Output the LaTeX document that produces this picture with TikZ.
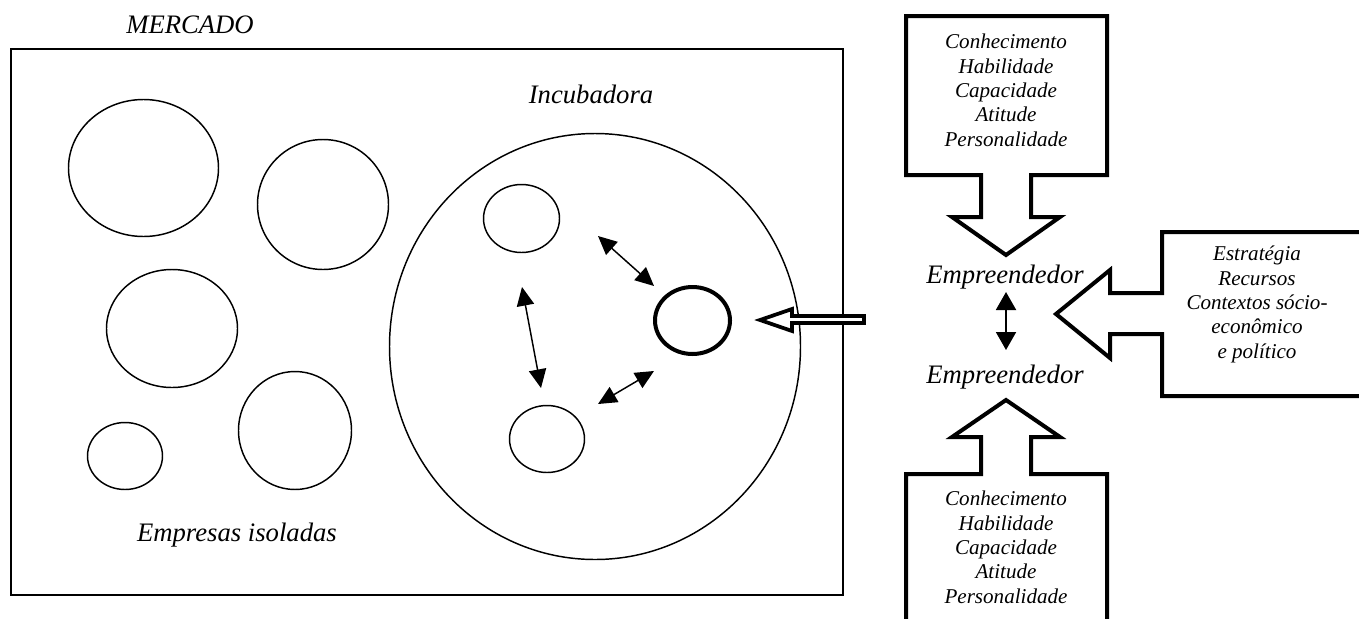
\documentclass[tikz,border=0pt]{standalone}
\usepackage{fontspec}
\setmainfont{Liberation Serif}
\usetikzlibrary{arrows.meta,shapes.geometric}
\begin{document}
\begin{tikzpicture}[x=0.75pt,y=-0.75pt,
  frame/.style={draw,line width=1.4pt},
  firm/.style={ellipse,draw,line width=1.1pt,inner sep=0pt},
  keyfirm/.style={ellipse,draw,line width=3pt,inner sep=0pt},
  big/.style={font=\fontsize{20}{24}\selectfont\itshape,inner sep=0pt},
  small/.style={font=\fontsize{15.8}{18.2}\selectfont\itshape,align=center,inner sep=0pt},
  block/.style={draw,line width=3pt,fill=white,line join=miter},
  hollow/.style={draw,line width=2.8pt,fill=white,line join=miter},
  link/.style={{Triangle[length=14pt,width=13pt]}-{Triangle[length=14pt,width=13pt]},line width=1.1pt},
  tie/.style={{Triangle[length=13.5pt,width=15pt]}-{Triangle[length=13.5pt,width=15pt]},line width=1.4pt}]
\useasboundingbox (0,0) rectangle (1359,618);
\clip (0,0) rectangle (1359,618);

% market frame
\draw[frame] (11,49) rectangle (843,595);

% isolated firms
\node[firm,minimum width=112.5pt,minimum height=102.75pt] (f1) at (143.5,168) {};
\node[firm,minimum width=98.25pt,minimum height=97.5pt] (f2) at (323,204.5) {};
\node[firm,minimum width=98.25pt,minimum height=88.5pt] (f3) at (172,328.5) {};
\node[firm,minimum width=56.25pt,minimum height=50.25pt] (f4) at (125,456) {};
\node[firm,minimum width=84.75pt,minimum height=88.5pt] (f5) at (295,430.5) {};

% incubator and its firms
\node[firm,minimum width=308.25pt,minimum height=319.5pt] (inc) at (595,346.5) {};
\node[firm,minimum width=57pt,minimum height=51pt] (ia) at (521.5,218.5) {};
\node[firm,minimum width=56.25pt,minimum height=50.25pt] (ib) at (547,439) {};
\node[keyfirm,minimum width=56.25pt,minimum height=50.25pt] (ic) at (692.5,320.5) {};

% exchanges between incubated firms
\coordinate (a1s) at (598,236); \coordinate (a1e) at (654,286);
\coordinate (a2s) at (522,287); \coordinate (a2e) at (541,388);
\coordinate (a3s) at (598,404); \coordinate (a3e) at (654,371);
\draw[link] (a1s) -- (a1e);
\draw[link] (a2s) -- (a2e);
\draw[link] (a3s) -- (a3e);

% entrepreneur entering the incubator
\draw[hollow] (864,316) -- (792,316) -- (792,309) -- (760,320) -- (792,331) -- (792,323) -- (864,323) -- cycle;

% block arrows around the entrepreneurs
\draw[block] (906,16) -- (1107,16) -- (1107,175) -- (1031,175) -- (1031,217) -- (1060,217)
  -- (1006,255) -- (952,217) -- (981,217) -- (981,175) -- (906,175) -- cycle;
\draw[block] (906,630) -- (906,474) -- (981,474) -- (981,437) -- (952,437) -- (1006,400)
  -- (1060,437) -- (1031,437) -- (1031,474) -- (1107,474) -- (1107,630);
\draw[block] (1370,232) -- (1162,232) -- (1162,293) -- (1110,293) -- (1110,270) -- (1056,314)
  -- (1110,358) -- (1110,334) -- (1162,334) -- (1162,396) -- (1370,396);

% labels
\node[big,anchor=base] (mercado) at (190,33) {MERCADO};
\node[big,anchor=base] (incubadora) at (591,103) {Incubadora};
\node[big,anchor=base] (isoladas) at (237,541) {Empresas isoladas};
\node[big,anchor=base] (ent1) at (1005,283) {Empreendedor};
\node[big,anchor=base] (ent2) at (1005,383) {Empreendedor};

\coordinate (d1) at (1006,292); \coordinate (d2) at (1006,350);
\draw[tie] (d1) -- (d2);

\node[small,anchor=base] (skills1) at (1006,146) {Conhecimento\\Habilidade\\Capacidade\\Atitude\\Personalidade};
\node[small,anchor=base] (skills2) at (1006,603) {Conhecimento\\Habilidade\\Capacidade\\Atitude\\Personalidade};
\node[small,anchor=base] (context) at (1257,358) {Estratégia\\Recursos\\Contextos sócio-\\econômico\\e político};
\end{tikzpicture}
\end{document}
